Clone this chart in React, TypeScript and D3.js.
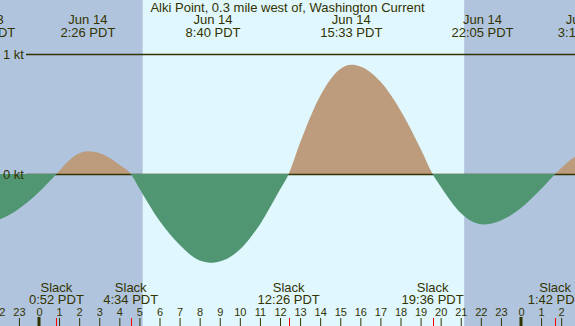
import React, { useEffect, useRef } from 'react'
import * as d3 from 'd3'

// hours from Jun 14 00:00 PDT, current speed in knots (flood +, ebb -)
const hours = [-3, -2.73, -2, -1, 0, 0.867, 1, 2, 2.433, 3, 4, 4.567, 5, 6, 7, 8, 8.667, 9, 10, 11, 12, 12.433,
  13, 14, 15, 15.55, 16, 17, 18, 19, 19.6, 20, 21, 22, 22.083, 23, 24, 25, 25.7, 26, 27, 27.2]
const speeds = [-0.4, -0.4, -0.38, -0.29, -0.15, 0, 0.025, 0.172, 0.19, 0.174, 0.077, 0, -0.12, -0.39, -0.59, -0.72, -0.74, -0.73, -0.63, -0.42, -0.13, 0,
  0.26, 0.65, 0.875, 0.91, 0.896, 0.77, 0.53, 0.21, 0, -0.105, -0.325, -0.419, -0.42, -0.387, -0.283, -0.126, 0, 0.05, 0.166, 0.17]

// max flood / max ebb events
const maxHours = [-2.73, 2.433, 8.667, 15.55, 22.083, 27.2]
const maxDates = ['Jun 13', 'Jun 14', 'Jun 14', 'Jun 14', 'Jun 14', 'Jun 15']
const maxTimes = ['21:16 PDT', '2:26 PDT', '8:40 PDT', '15:33 PDT', '22:05 PDT', '3:12 PDT']

// slack water
const slackHours = [0.867, 4.567, 12.433, 19.6, 25.7]
const slackTimes = ['0:52 PDT', '4:34 PDT', '12:26 PDT', '19:36 PDT', '1:42 PDT']

const sunrise = 5.17
const sunset = 21.17
const hourTicks = d3.range(-2, 27)
const ktTicks = [0, 1]

const W = 575
const H = 326
const FONT = '"Liberation Sans", Arial, sans-serif'
const INK = '#333300'

export default function App() {
  const ref = useRef<SVGSVGElement>(null)

  useEffect(() => {
    const svg = d3.select(ref.current)
    svg.selectAll('*').remove()

    const x = d3.scaleLinear().domain([0, 24]).range([39, 521])
    const y = d3.scaleLinear().domain([0, 1]).range([174, 54])
    const t0 = x.invert(0)
    const t1 = x.invert(W)

    // night / day background
    const bands = [[t0, sunrise, '#b0c4de'], [sunrise, sunset, '#e0f7fe'], [sunset, t1, '#b0c4de']] as const
    svg.selectAll('rect.band').data(bands).enter().append('rect')
      .attr('x', d => x(d[0])).attr('width', d => x(d[1]) - x(d[0]))
      .attr('y', 0).attr('height', H)
      .attr('fill', d => d[2])

    const data = hours.map((h, i) => [h, speeds[i]] as [number, number])
    const area = d3.area<[number, number]>()
      .x(d => x(d[0])).y0(y(0)).y1(d => y(d[1]))
      .curve(d3.curveMonotoneX)

    const defs = svg.append('defs')
    defs.append('clipPath').attr('id', 'above').append('rect')
      .attr('x', 0).attr('y', 0).attr('width', W).attr('height', y(0))
    defs.append('clipPath').attr('id', 'below').append('rect')
      .attr('x', 0).attr('y', y(0)).attr('width', W).attr('height', H)

    svg.append('path').attr('d', area(data)).attr('fill', '#bc9c7c').attr('clip-path', 'url(#above)')

    // knot lines
    svg.selectAll('line.kt').data(ktTicks).enter().append('line')
      .attr('x1', 26).attr('x2', W)
      .attr('y1', d => y(d) + 0.5).attr('y2', d => y(d) + 0.5)
      .attr('stroke', INK).attr('stroke-width', 1.3)

    svg.append('path').attr('d', area(data)).attr('fill', '#509672').attr('clip-path', 'url(#below)')

    svg.selectAll('text.kt').data(ktTicks).enter().append('text')
      .attr('x', 3).attr('y', d => y(d) + 5)
      .attr('font-family', FONT).attr('font-size', 13).attr('fill', INK)
      .text(d => `${d} kt`)

    // title
    svg.append('text').attr('x', W / 2).attr('y', 12)
      .attr('text-anchor', 'middle').attr('font-family', FONT).attr('font-size', 13).attr('fill', INK)
      .text('Alki Point, 0.3 mile west of, Washington Current')

    // max event labels
    const top = svg.selectAll('g.max').data(maxHours).enter().append('g')
      .attr('transform', d => `translate(${x(d)},0)`)
      .attr('font-family', FONT).attr('font-size', 13).attr('fill', INK).attr('text-anchor', 'middle')
    top.append('text').attr('y', 24).text((d, i) => maxDates[i])
    top.append('text').attr('y', 37).text((d, i) => maxTimes[i])

    // slack labels
    const sl = svg.selectAll('g.slack').data(slackHours).enter().append('g')
      .attr('transform', d => `translate(${x(d)},0)`)
      .attr('font-family', FONT).attr('font-size', 13).attr('fill', INK).attr('text-anchor', 'middle')
    sl.append('text').attr('y', 292).text('Slack')
    sl.append('text').attr('y', 304).text((d, i) => slackTimes[i])

    // hour axis
    const axis = d3.axisTop(x).tickValues(hourTicks).tickSize(8).tickPadding(2)
      .tickFormat(d => String(((+d % 24) + 24) % 24))
    const ag = svg.append('g').attr('transform', `translate(0,${H})`).call(axis)
    ag.select('.domain').remove()
    ag.selectAll('line').attr('stroke', INK)
    ag.selectAll('text').attr('fill', INK).attr('font-family', FONT).attr('font-size', 11)

    // midnight marks
    svg.selectAll('rect.midnight').data([0, 24]).enter().append('rect')
      .attr('x', d => x(d) - 1.5).attr('width', 3)
      .attr('y', 317).attr('height', 9).attr('fill', INK)

    // slack marks
    svg.selectAll('line.slk').data(slackHours).enter().append('line')
      .attr('x1', d => Math.round(x(d)) + 0.5).attr('x2', d => Math.round(x(d)) + 0.5)
      .attr('y1', 318).attr('y2', H)
      .attr('stroke', 'red')
  }, [])

  return (
    <svg ref={ref} width={W} height={H}
      style={{ position: 'absolute', left: 0, top: 0, display: 'block' }} />
  )
}
